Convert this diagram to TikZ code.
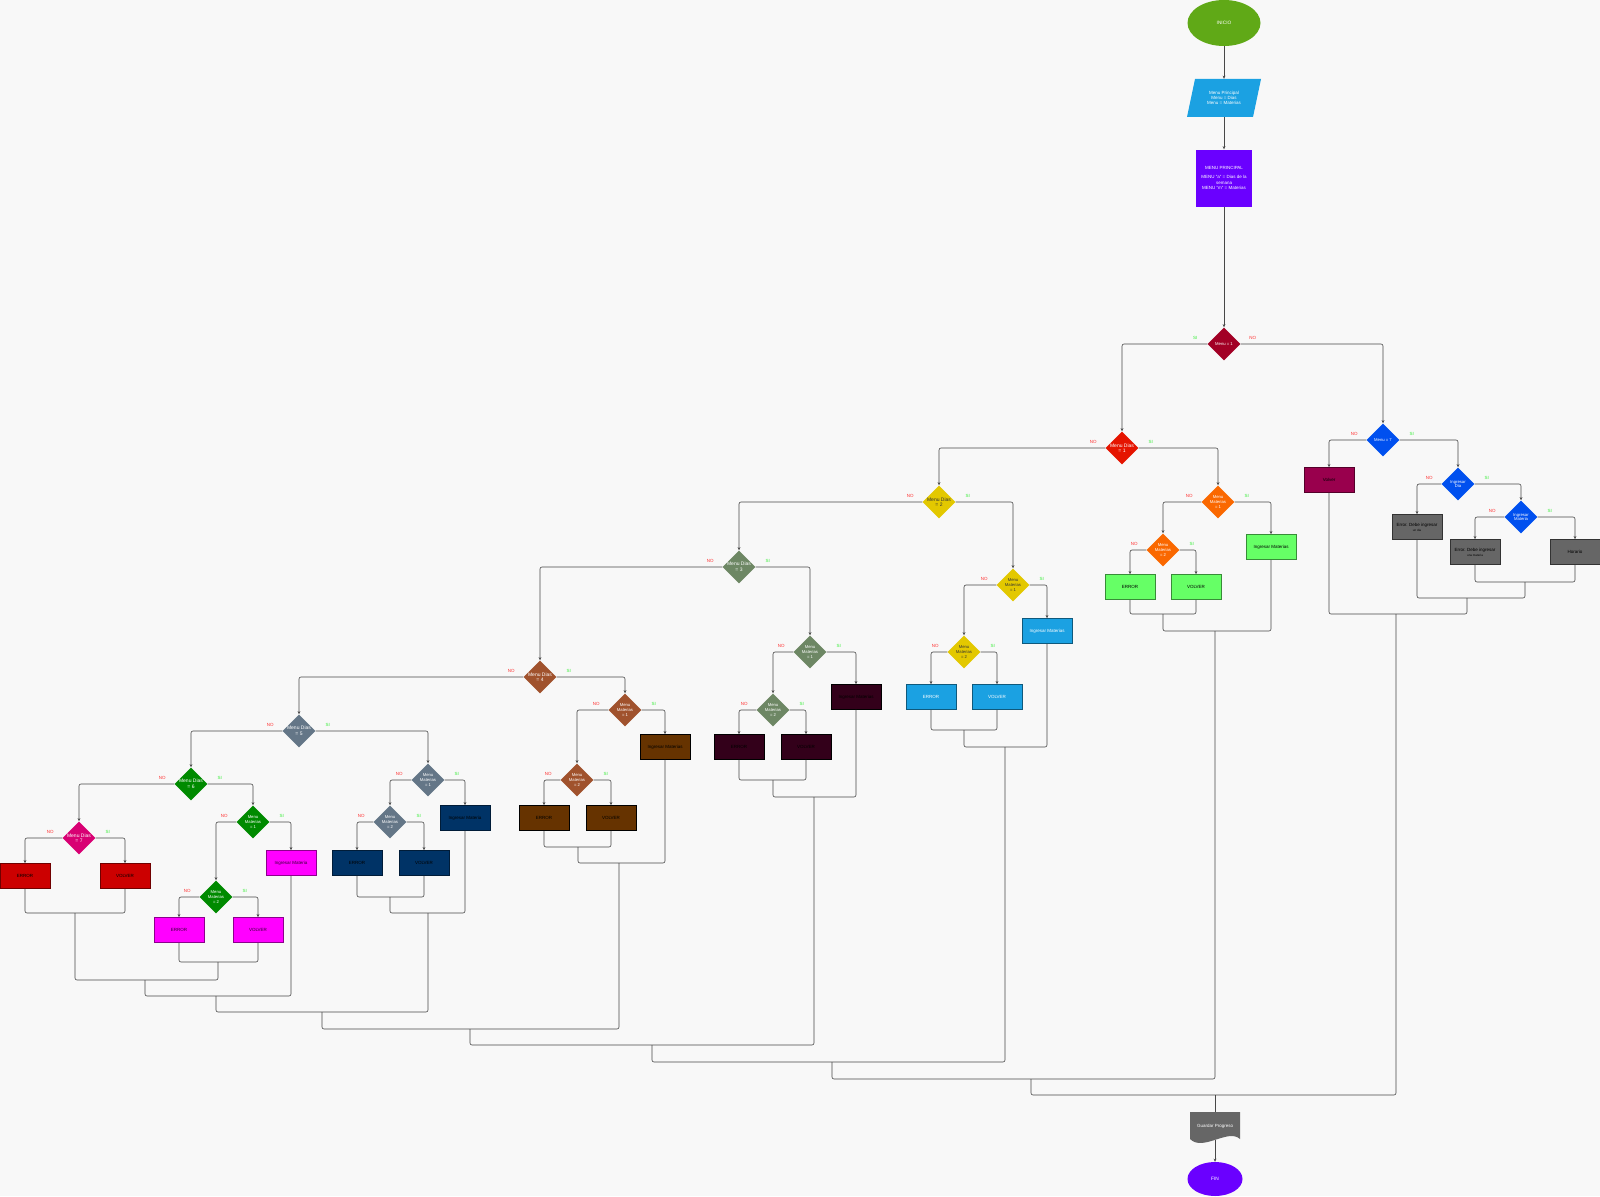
\documentclass[tikz,border=0pt]{standalone}
\usepackage{fontspec}
\setmainfont{Liberation Sans}
\usetikzlibrary{shapes.geometric,arrows.meta,calc}
\definecolor{bg}{HTML}{F8F8F8}
\definecolor{cInicio}{HTML}{60A917}
\definecolor{cPar}{HTML}{1BA1E2}
\definecolor{cViolet}{HTML}{6A00FF}
\definecolor{cMone}{HTML}{A20025}
\definecolor{cDone}{HTML}{E51400}
\definecolor{cOrange}{HTML}{FA6800}
\definecolor{cGreenBox}{HTML}{66FF66}
\definecolor{cYellow}{HTML}{E3C800}
\definecolor{cBlue}{HTML}{1BA1E2}
\definecolor{cOlive}{HTML}{6D8764}
\definecolor{cMaroon}{HTML}{33001A}
\definecolor{cSienna}{HTML}{A0522D}
\definecolor{cBrown}{HTML}{663300}
\definecolor{cSlate}{HTML}{647687}
\definecolor{cNavy}{HTML}{003366}
\definecolor{cGreen}{HTML}{008A00}
\definecolor{cMagenta}{HTML}{FF00FF}
\definecolor{cPink}{HTML}{D80073}
\definecolor{cRed}{HTML}{CC0000}
\definecolor{cCobalt}{HTML}{0050EF}
\definecolor{cVolver}{HTML}{99004D}
\definecolor{cGray}{HTML}{666666}
\definecolor{cNo}{HTML}{FF3333}
\definecolor{cSi}{HTML}{33EE33}
\definecolor{cLine}{HTML}{484848}
\definecolor{cDark}{HTML}{333333}
\newcommand{\brlab}[1]{%
  \node[lno] (#1-no) at ($(#1.west)+(-12,-6)$) {NO};
  \node[lsi] (#1-si) at ($(#1.east)+(12,-6)$) {SI};}
\newcommand{\branchto}[3]{%
  \draw[arr] (#1.west) -| (#2.north);
  \draw[arr] (#1.east) -| (#3.north);}
\newcommand{\joinat}[3]{\draw[ln] (#1) |- (#2) -| (#3);}
\begin{document}
\begin{tikzpicture}[x=1pt,y=-1pt,
  ln/.style={draw=cLine, line width=0.6pt, rounded corners=2pt},
  arr/.style={ln, -{Stealth[length=3.2pt,width=2.8pt]}},
  dia/.style={diamond, minimum width=33pt, minimum height=33pt, inner sep=0pt, fill=#1},
  dt/.style={font=\fontsize{4.2}{4.8}\selectfont, text=white, align=center, inner sep=0pt},
  dtb/.style={font=\fontsize{5}{5.6}\selectfont, text=white, align=center, inner sep=0pt},
  bx/.style={rectangle, minimum width=50pt, minimum height=25pt, inner sep=1pt, align=center,
     font=\fontsize{4.5}{5.2}\selectfont, line width=0.6pt, fill=#1, draw=#1!55!black},
  lno/.style={text=cNo, font=\fontsize{4.5}{5}\selectfont, inner sep=0pt},
  lsi/.style={text=cSi, font=\fontsize{4.5}{5}\selectfont, inner sep=0pt},
]
\useasboundingbox (0,0) rectangle (1600,1196);
\fill[bg] (0,0) rectangle (1600,1196);

% ---------- top column ----------
\node[ellipse, fill=cInicio, minimum width=73pt, minimum height=46pt, inner sep=0pt,
  text=white, font=\fontsize{4.8}{5.4}\selectfont] (ini) at (1224,23) {INICIO};
\fill[cPar] (1187,117) -- (1253,117) -- (1261,79) -- (1195,79) -- cycle;
\node[minimum width=66pt, minimum height=38pt, inner sep=0pt, align=center, text=white,
  font=\fontsize{4.5}{5.3}\selectfont] (pp) at (1224,98) {Menu Principal\\Menu = Dias\\Menu = Materias};
\node[rectangle, fill=cViolet, minimum width=56pt, minimum height=57pt, inner sep=0pt, align=center,
  text=white, font=\fontsize{4.5}{5.3}\selectfont] (mp) at (1224,178)
  {MENU PRINCIPAL\\[4pt]MENU "a" = Dias de la\\semana\\MENU "m" = Materias};
\node[dia=cMone, label={[dt]center:Menu = 1}] (m1) at (1224,344) {};
\draw[arr] (ini) -- (pp);
\draw[arr] (pp) -- (mp);
\draw[arr] (mp) -- (m1);
\node[lsi] (m1-si) at ($(m1.west)+(-12,-6)$) {SI};
\node[lno] (m1-no) at ($(m1.east)+(12,-6)$) {NO};

% ---------- Menu = 7 branch ----------
\node[dia=cCobalt, label={[dt]center:Menu = 7}] (m7) at (1383,440) {};
\node[bx=cVolver] (vol) at (1329,480) {Volver};
\node[dia=cCobalt, label={[dt]center:Ingresar\\Dia}] (idia) at (1458,484) {};
\node[bx=cGray, draw=black!80] (ed) at (1417,527) {Error. Debe ingresar\\{\fontsize{3}{3.6}\selectfont un dia}};
\node[dia=cCobalt, label={[dt]center:Ingresar\\Materia}] (imat) at (1521,517) {};
\node[bx=cGray, draw=black!80] (em) at (1475,552) {Error. Debe ingresar\\{\fontsize{3}{3.6}\selectfont una materia}};
\node[bx=cGray, draw=black!80] (hor) at (1575,552) {Horario};

% ---------- Menu Dias = 1 ----------
\node[dia=cDone, label={[dtb]center:Menu Dias\\= 1}] (d1) at (1122,448) {};
\node[dia=cOrange, label={[dt]center:Menu\\Materias\\= 1}] (mm11) at (1218,502) {};
\node[dia=cOrange, label={[dt]center:Menu\\Materias\\= 2}] (mm12) at (1163,550) {};
\node[bx=cGreenBox] (i1) at (1271,547) {Ingresar Materias};
\node[bx=cGreenBox] (e1) at (1130,587) {ERROR};
\node[bx=cGreenBox] (v1) at (1196,587) {VOLVER};

% ---------- Menu Dias = 2 ----------
\node[dia=cYellow, label={[dtb,text=cDark]center:Menu Dias\\= 2}] (d2) at (939,502) {};
\node[dia=cYellow, label={[dt,text=cDark]center:Menu\\Materias\\= 1}] (mm21) at (1013,585) {};
\node[dia=cYellow, label={[dt,text=cDark]center:Menu\\Materias\\= 2}] (mm22) at (964,652) {};
\node[bx=cBlue, text=white] (i2) at (1047,631) {Ingresar Materias};
\node[bx=cBlue, text=white] (e2) at (931,697) {ERROR};
\node[bx=cBlue, text=white] (v2) at (997,697) {VOLVER};

% ---------- Menu Dias = 3 ----------
\node[dia=cOlive, label={[dtb]center:Menu Dias\\= 3}] (d3) at (739,567) {};
\node[dia=cOlive, label={[dt]center:Menu\\Materias\\= 1}] (mm31) at (810,652) {};
\node[dia=cOlive, label={[dt]center:Menu\\Materias\\= 2}] (mm32) at (773,710) {};
\node[bx=cMaroon, draw=black] (i3) at (856,697) {Ingresar Materias};
\node[bx=cMaroon, draw=black] (e3) at (739,747) {ERROR};
\node[bx=cMaroon, draw=black] (v3) at (806,747) {VOLVER};

% ---------- Menu Dias = 4 ----------
\node[dia=cSienna, label={[dtb]center:Menu Dias\\= 4}] (d4) at (540,677) {};
\node[dia=cSienna, label={[dt]center:Menu\\Materias\\= 1}] (mm41) at (625,710) {};
\node[dia=cSienna, label={[dt]center:Menu\\Materias\\= 2}] (mm42) at (577,780) {};
\node[bx=cBrown, draw=black] (i4) at (665,747) {Ingresar Materias};
\node[bx=cBrown, draw=black] (e4) at (544,818) {ERROR};
\node[bx=cBrown, draw=black] (v4) at (611,818) {VOLVER};

% ---------- Menu Dias = 5 ----------
\node[dia=cSlate, label={[dtb]center:Menu Dias\\= 5}] (d5) at (299,731) {};
\node[dia=cSlate, label={[dt]center:Menu\\Materias\\= 1}] (mm51) at (428,780) {};
\node[dia=cSlate, label={[dt]center:Menu\\Materias\\= 2}] (mm52) at (390,822) {};
\node[bx=cNavy] (i5) at (465,818) {Ingresar Materia};
\node[bx=cNavy] (e5) at (357,863) {ERROR};
\node[bx=cNavy] (v5) at (424,863) {VOLVER};

% ---------- Menu Dias = 6 ----------
\node[dia=cGreen, label={[dtb]center:Menu Dias\\= 6}] (d6) at (191,784) {};
\node[dia=cGreen, label={[dt]center:Menu\\Materias\\= 1}] (mm61) at (253,822) {};
\node[dia=cGreen, label={[dt]center:Menu\\Materias\\= 2}] (mm62) at (216,897) {};
\node[bx=cMagenta, text=black!80!cMagenta] (i6) at (291,863) {Ingresar Materia};
\node[bx=cMagenta, text=black!80!cMagenta] (e6) at (179,930) {ERROR};
\node[bx=cMagenta, text=black!80!cMagenta] (v6) at (258,930) {VOLVER};

% ---------- Menu Dias = 7 ----------
\node[dia=cPink, label={[dtb]center:Menu Dias\\= 7}] (d7) at (79,838) {};
\node[bx=cRed] (e7) at (25,876) {ERROR};
\node[bx=cRed] (v7) at (125,876) {VOLVER};

% ---------- bottom ----------
\fill[cGray] (1190,1112) -- (1240,1112) -- (1240,1139) .. controls (1228,1128) and (1203,1152) .. (1190,1139) -- cycle;
\node[minimum width=50pt, minimum height=28pt, inner sep=0pt, text=white,
  font=\fontsize{4.5}{5.2}\selectfont] (gp) at (1215,1126) {Guardar Progreso};
\node[ellipse, fill=cViolet, minimum width=55pt, minimum height=34pt, inner sep=0pt,
  text=white, font=\fontsize{4.8}{5.4}\selectfont] (fin) at (1215,1179) {FIN};

% ---------- decision connectors ----------
\draw[arr] (m1.west) -| (d1.north);
\draw[arr] (m1.east) -| (m7.north);
\branchto{m7}{vol}{idia}
\branchto{idia}{ed}{imat}
\branchto{imat}{em}{hor}
\branchto{d1}{d2}{mm11}
\branchto{mm11}{mm12}{i1}
\branchto{mm12}{e1}{v1}
\branchto{d2}{d3}{mm21}
\branchto{mm21}{mm22}{i2}
\branchto{mm22}{e2}{v2}
\branchto{d3}{d4}{mm31}
\branchto{mm31}{mm32}{i3}
\branchto{mm32}{e3}{v3}
\branchto{d4}{d5}{mm41}
\branchto{mm41}{mm42}{i4}
\branchto{mm42}{e4}{v4}
\branchto{d5}{d6}{mm51}
\branchto{mm51}{mm52}{i5}
\branchto{mm52}{e5}{v5}
\branchto{d6}{d7}{mm61}
\branchto{mm61}{mm62}{i6}
\branchto{mm62}{e6}{v6}
\branchto{d7}{e7}{v7}

\brlab{m7}\brlab{idia}\brlab{imat}
\brlab{d1}\brlab{mm11}\brlab{mm12}
\brlab{d2}\brlab{mm21}\brlab{mm22}
\brlab{d3}\brlab{mm31}\brlab{mm32}
\brlab{d4}\brlab{mm41}\brlab{mm42}
\brlab{d5}\brlab{mm51}\brlab{mm52}
\brlab{d6}\brlab{mm61}\brlab{mm62}
\brlab{d7}

% ---------- merge points ----------
\coordinate (c7) at (75,913);
\coordinate (c62) at (218,962);
\coordinate (c6a) at (145,980);
\coordinate (c6) at (216,996);
\coordinate (c52) at (390,897);
\coordinate (c5) at (428,913);
\coordinate (c56) at (322,1012);
\coordinate (c42) at (578,847);
\coordinate (c4) at (619,863);
\coordinate (c45) at (470,1029);
\coordinate (c32) at (773,780);
\coordinate (c3) at (814,797);
\coordinate (c34) at (652,1045);
\coordinate (c22) at (964,730);
\coordinate (c2) at (1005,747);
\coordinate (c23) at (832,1062);
\coordinate (c12) at (1163,614);
\coordinate (c1) at (1215,631);
\coordinate (c12b) at (1031,1079);
\coordinate (cA) at (1525,582);
\coordinate (cB) at (1467,598);
\coordinate (cC) at (1396,614);
\coordinate (cF) at (1215,1095);

\joinat{e7.south}{c7}{v7.south}
\joinat{e6.south}{c62}{v6.south}
\joinat{c7}{c6a}{c62}
\joinat{c6a}{c6}{i6.south}
\joinat{e5.south}{c52}{v5.south}
\joinat{c52}{c5}{i5.south}
\joinat{c6}{c56}{c5}
\joinat{e4.south}{c42}{v4.south}
\joinat{c42}{c4}{i4.south}
\joinat{c56}{c45}{c4}
\joinat{e3.south}{c32}{v3.south}
\joinat{c32}{c3}{i3.south}
\joinat{c45}{c34}{c3}
\joinat{e2.south}{c22}{v2.south}
\joinat{c22}{c2}{i2.south}
\joinat{c34}{c23}{c2}
\joinat{e1.south}{c12}{v1.south}
\joinat{c12}{c1}{i1.south}
\joinat{c23}{c12b}{c1}
\joinat{em.south}{cA}{hor.south}
\joinat{ed.south}{cB}{cA}
\joinat{vol.south}{cC}{cB}
\joinat{c12b}{cF}{cC}
\draw[ln] (cF) -- (gp.north);
\draw[arr] (gp.south) -- (fin.north);
\end{tikzpicture}
\end{document}
